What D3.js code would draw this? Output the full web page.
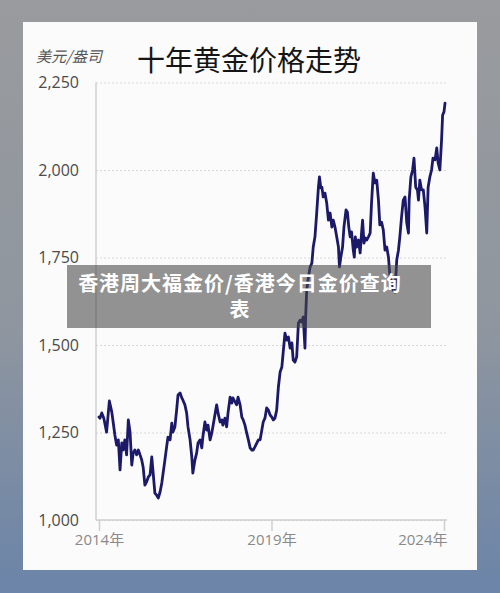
<!DOCTYPE html>
<html>
<head>
<meta charset="utf-8">
<script src="https://cdn.jsdelivr.net/npm/d3@7"></script>
<style>
  html, body { margin: 0; padding: 0; }
  body { width: 500px; height: 593px; overflow: hidden; position: relative; }
  svg { display: block; }
  #banner {
    position: absolute; left: 67px; top: 265px; width: 364px; height: 63px;
    box-sizing: border-box; padding: 5px 18px 0 0;
    background: rgba(70,70,70,0.58); color: #fff; text-align: center;
    font-family: 'Noto Sans CJK SC', sans-serif; font-weight: bold;
    font-size: 20px; line-height: 26px; letter-spacing: 1px; white-space: pre-line;
  }
</style>
</head>
<body>
<svg id="chart" width="500" height="593"></svg>
<div id="banner"></div>
<script>
// ---- data ----
const title = "十年黄金价格走势";
const unitLabel = "美元/盎司";
const bannerLines = ["香港周大福金价/香港今日金价查询", "表"];
const yTicks = [1000, 1250, 1500, 1750, 2000, 2250];
const xTicks = [2014, 2019, 2024];
const xTickLabels = ["2014年", "2019年", "2024年"];

const years = [
  2014.00,2014.03,2014.08,2014.14,2014.22,2014.30,2014.37,2014.41,2014.46,2014.51,
  2014.56,2014.61,2014.66,2014.70,2014.75,2014.80,2014.85,2014.90,2014.95,2014.99,
  2015.04,2015.09,2015.14,2015.19,2015.24,2015.28,2015.33,2015.38,2015.43,2015.48,
  2015.53,2015.57,2015.62,2015.67,2015.72,2015.77,2015.82,2015.91,2015.96,2016.00,
  2016.06,2016.11,2016.14,2016.20,2016.25,2016.29,2016.35,2016.40,2016.43,2016.49,
  2016.54,2016.58,2016.64,2016.69,2016.72,2016.78,2016.83,2016.87,2016.93,2016.98,
  2017.01,2017.07,2017.12,2017.16,2017.22,2017.27,2017.30,2017.41,2017.45,2017.51,
  2017.56,2017.59,2017.65,2017.70,2017.74,2017.80,2017.85,2017.88,2017.99,2018.03,
  2018.09,2018.14,2018.18,2018.23,2018.28,2018.33,2018.38,2018.43,2018.47,2018.52,
  2018.62,2018.67,2018.72,2018.76,2018.81,2018.86,2018.91,2018.96,2019.01,2019.05,
  2019.10,2019.15,2019.20,2019.25,2019.30,2019.34,2019.39,2019.44,2019.49,2019.54,
  2019.59,2019.63,2019.68,2019.73,2019.78,2019.83,2019.88,2019.92,2019.97,2019.99,
  2020.02,2020.07,2020.12,2020.17,2020.21,2020.26,2020.31,2020.36,2020.39,2020.43,
  2020.46,2020.50,2020.55,2020.60,2020.65,2020.70,2020.75,2020.79,2020.84,2020.89,
  2020.94,2020.97,2021.01,2021.06,2021.10,2021.16,2021.20,2021.24,2021.28,2021.32,
  2021.37,2021.40,2021.43,2021.47,2021.52,2021.57,2021.61,2021.64,2021.68,2021.72,
  2021.76,2021.81,2021.86,2021.90,2021.95,2022.00,2022.05,2022.10,2022.14,2022.19,
  2022.24,2022.29,2022.34,2022.39,2022.43,2022.48,2022.53,2022.58,2022.63,2022.68,
  2022.72,2022.77,2022.82,2022.87,2022.92,2022.97,2022.99,2023.04,2023.09,2023.13,
  2023.18,2023.23,2023.26,2023.30,2023.35,2023.40,2023.45,2023.50,2023.54,2023.59,
  2023.64,2023.68,2023.74,2023.79,2023.83,2023.88,2023.93,2023.96,2024.00,2024.03
];
const prices = [
  1294,1291,1306,1291,1251,1340,1309,1280,1243,1214,
  1229,1143,1220,1200,1229,1186,1286,1251,1157,1191,
  1200,1186,1200,1186,1171,1151,1100,1109,1123,1129,
  1180,1134,1077,1071,1063,1080,1106,1171,1209,1237,
  1229,1277,1251,1266,1314,1357,1363,1349,1343,1329,
  1306,1266,1229,1180,1134,1171,1191,1220,1229,1206,
  1237,1280,1257,1271,1229,1249,1266,1329,1306,1280,
  1286,1271,1291,1266,1306,1351,1334,1349,1329,1351,
  1329,1294,1286,1271,1249,1229,1206,1200,1200,1209,
  1229,1229,1257,1280,1291,1320,1314,1300,1294,1286,
  1291,1314,1380,1423,1437,1480,1534,1514,1523,1491,
  1506,1457,1451,1466,1563,1571,1566,1580,1491,1580,
  1657,1694,1723,1734,1780,1809,1877,1951,1980,1949,
  1951,1923,1934,1906,1857,1877,1837,1857,1837,1809,
  1780,1723,1751,1780,1837,1886,1880,1837,1809,1823,
  1771,1751,1809,1780,1800,1763,1820,1857,1791,1806,
  1800,1809,1820,1906,1991,1963,1971,1914,1843,1851,
  1829,1771,1780,1751,1700,1677,1657,1651,1743,1771,
  1809,1866,1914,1923,1849,1820,1914,1980,2000,2034,
  1951,1943,1914,1971,1943,1943,1894,1820,1951,1980,
  2000,2034,2029,2063,2020,2000,2086,2157,2166,2191
];

// ---- drawing ----
const svg = d3.select("#chart");
const defs = svg.append("defs");
const bg = defs.append("linearGradient").attr("id", "bg")
  .attr("x1", 0).attr("y1", 0).attr("x2", 0).attr("y2", 1);
bg.append("stop").attr("offset", "0%").attr("stop-color", "#999b9e");
bg.append("stop").attr("offset", "55%").attr("stop-color", "#8f969f");
bg.append("stop").attr("offset", "100%").attr("stop-color", "#6b84a8");

svg.append("rect").attr("width", 500).attr("height", 593).attr("fill", "url(#bg)");
svg.append("rect").attr("x", 23).attr("y", 22).attr("width", 454).attr("height", 548)
  .attr("fill", "#fbfbfb");

const x = d3.scaleLinear().domain([2014, 2024]).range([99, 444]);
const y = d3.scaleLinear().domain([1000, 2250]).range([520, 82.5]);
const plotLeft = 96, plotRight = 447;

// gridlines
const grid = svg.append("g").attr("transform", `translate(${plotLeft},0)`)
  .call(d3.axisLeft(y).tickValues(yTicks).tickSize(-(plotRight - plotLeft)).tickFormat(""));
grid.select(".domain").remove();
grid.selectAll("line").attr("stroke", "#d8d8d8").attr("stroke-width", 1)
  .attr("stroke-dasharray", "2,2");

// y axis labels
const yAxis = svg.append("g").attr("transform", `translate(${plotLeft},0)`)
  .call(d3.axisLeft(y).tickValues(yTicks).tickSize(0).tickPadding(17).tickFormat(d3.format(",")));
yAxis.select(".domain").remove();
yAxis.selectAll("text").attr("font-family", "'Open Sans', sans-serif")
  .attr("font-size", 16).attr("fill", "#4a4a4a");

// left axis line
svg.append("line").attr("x1", plotLeft).attr("x2", plotLeft)
  .attr("y1", y(2250)).attr("y2", y(1000)).attr("stroke", "#cfcfcf").attr("stroke-width", 1.5);

// x axis
const xAxis = svg.append("g").attr("transform", `translate(0,${y(1000)})`)
  .call(d3.axisBottom(x).tickValues(xTicks).tickSize(11).tickPadding(3)
    .tickFormat((d, i) => xTickLabels[i]));
xAxis.select(".domain").remove();
xAxis.selectAll("line").attr("stroke", "#cfcfcf").attr("stroke-width", 1.5);
xAxis.selectAll("text").attr("font-family", "'Open Sans', 'Noto Sans CJK SC', sans-serif")
  .attr("font-size", 15).attr("fill", "#8a8a8a");
// last label kept inside the plot's right edge
xAxis.selectAll(".tick").filter((d, i, n) => i === n.length - 1).select("text")
  .attr("text-anchor", "end").attr("x", plotRight - x(2024));
svg.append("line").attr("x1", plotLeft).attr("x2", plotRight)
  .attr("y1", y(1000)).attr("y2", y(1000)).attr("stroke", "#cfcfcf").attr("stroke-width", 1.5);

// price line
const line = d3.line().x((d, i) => x(years[i])).y(d => y(d));
svg.append("path").datum(prices).attr("d", line)
  .attr("fill", "none").attr("stroke", "#1c1a68").attr("stroke-width", 2.8)
  .attr("stroke-linejoin", "round").attr("stroke-linecap", "round");

// title & unit
svg.append("text").attr("x", 249).attr("y", 71).attr("text-anchor", "middle")
  .attr("font-family", "'Noto Sans CJK SC', sans-serif").attr("font-size", 28)
  .attr("fill", "#151515").text(title);
svg.append("text").attr("x", 36).attr("y", 62)
  .attr("font-family", "'Noto Sans CJK SC', sans-serif").attr("font-size", 15)
  .attr("font-style", "italic").attr("fill", "#555").text(unitLabel);

// overlay banner: one caption text, wrapped onto two lines
d3.select("#banner").text(bannerLines.join("\n"));
</script>
</body>
</html>
